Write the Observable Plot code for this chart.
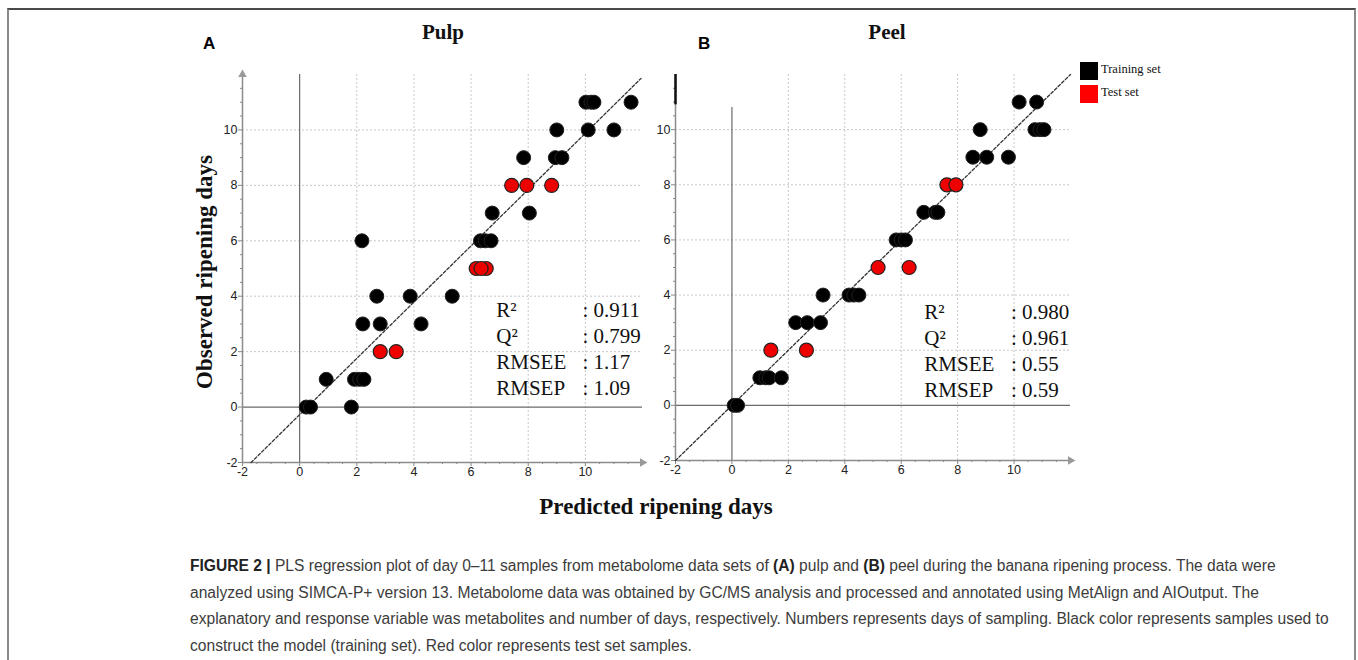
<!DOCTYPE html>
<html><head><meta charset="utf-8">
<script src="https://cdn.jsdelivr.net/npm/d3@7"></script>
<script src="https://cdn.jsdelivr.net/npm/@observablehq/plot@0.6"></script>
<style>
body{margin:0;background:#fff;}
#fig{position:relative;width:1358px;height:660px;overflow:hidden;background:#fff;font-family:"Liberation Sans",Arial,sans-serif;}
.frame{position:absolute;left:7px;top:8px;width:1345px;height:700px;border-left:2px solid #8a8a8a;border-top:2px solid #4a4a4a;border-right:2px solid #8a8a8a;}
.abs{position:absolute;white-space:nowrap;}
.letter{font-family:"Liberation Sans",Arial,sans-serif;font-weight:bold;font-size:17px;color:#000;}
.ptitle{font-family:"Liberation Serif","Times New Roman",serif;font-weight:bold;font-size:21px;color:#111;}
.atitle{font-family:"Liberation Serif","Times New Roman",serif;font-weight:bold;font-size:23px;color:#111;}
.leg{font-family:"Liberation Serif","Times New Roman",serif;font-size:12.5px;color:#111;}
.sw{position:absolute;width:18px;height:18px;}
.cap{position:absolute;left:190px;top:553px;font-size:15.6px;line-height:26.5px;color:#3c3c3c;font-family:"Liberation Sans",Arial,sans-serif;}
.cap div{white-space:nowrap;}
.panel{position:absolute;}
</style>
</head><body>
<div id="fig">
  <div class="frame"></div>
  <div class="abs letter" style="left:203px;top:34px;">A</div>
  <div class="abs letter" style="left:698px;top:34px;">B</div>
  <div class="abs ptitle" style="left:443px;top:20px;transform:translateX(-50%);">Pulp</div>
  <div class="abs ptitle" style="left:887px;top:20px;transform:translateX(-50%);">Peel</div>
  <div class="abs atitle" style="left:205px;top:272px;transform:translate(-50%,-50%) rotate(-90deg);">Observed ripening days</div>
  <div class="abs atitle" style="left:656px;top:507px;transform:translate(-50%,-50%);">Predicted ripening days</div>
  <div class="sw" style="left:1080px;top:62px;background:#000;"></div>
  <div class="abs leg" style="left:1101px;top:62px;">Training set</div>
  <div class="sw" style="left:1080px;top:85px;background:#ff0000;"></div>
  <div class="abs leg" style="left:1101px;top:85px;">Test set</div>
  <div id="left" class="panel" style="left:200px;top:60px;"></div>
  <div id="right" class="panel" style="left:640px;top:60px;"></div>
  <div class="cap">
    <div><b style="color:#222">FIGURE 2 |</b> PLS regression plot of day 0–11 samples from metabolome data sets of <b style="color:#222">(A)</b> pulp and <b style="color:#222">(B)</b> peel during the banana ripening process. The data were</div>
    <div>analyzed using SIMCA-P+ version 13. Metabolome data was obtained by GC/MS analysis and processed and annotated using MetAlign and AIOutput. The</div>
    <div>explanatory and response variable was metabolites and number of days, respectively. Numbers represents days of sampling. Black color represents samples used to</div>
    <div>construct the model (training set). Red color represents test set samples.</div>
  </div>
</div>
<script>
// ---- Data ----
const majorTicks = [-2, 0, 2, 4, 6, 8, 10];
const gridTicks = [2, 4, 6, 8, 10];
const statNames = ["R²", "Q²", "RMSEE", "RMSEP"];

// Pulp (A)
const pulpTrainX = [10.02, 10.2, 10.3, 11.6, 9.0, 10.1, 11.0, 7.84, 8.95, 9.18, 6.74, 8.04, 2.18, 6.33, 6.5, 6.7, 2.70, 3.87, 5.34, 2.21, 2.82, 4.25, 0.93, 1.92, 2.10, 2.25, 0.23, 0.38, 1.81];
const pulpTrainY = [11, 11, 11, 11, 10, 10, 10, 9, 9, 9, 7, 7, 6, 6, 6, 6, 4, 4, 4, 3, 3, 3, 1, 1, 1, 1, 0, 0, 0];
const pulpTestX = [7.42, 7.95, 8.82, 6.18, 6.53, 6.35, 2.82, 3.38];
const pulpTestY = [8, 8, 8, 5, 5, 5, 2, 2];
const pulpFitX = [-1.7, 11.95];
const pulpFitY = [-2, 11.86];
const pulpStats = [": 0.911", ": 0.799", ": 1.17", ": 1.09"];

// Peel (B)
const peelTrainX = [10.18, 10.80, 8.80, 10.74, 10.92, 11.06, 8.54, 9.03, 9.80, 6.80, 7.21, 7.30, 5.82, 6.0, 6.15, 3.23, 4.15, 4.32, 4.50, 2.26, 2.67, 3.14, 0.99, 1.20, 1.32, 1.75, 0.08, 0.2];
const peelTrainY = [11, 11, 10, 10, 10, 10, 9, 9, 9, 7, 7, 7, 6, 6, 6, 4, 4, 4, 4, 3, 3, 3, 1, 1, 1, 1, 0, 0];
const peelTestX = [7.62, 7.94, 5.18, 6.28, 1.38, 2.64];
const peelTestY = [8, 8, 5, 5, 2, 2];
const peelFitX = [-2, 12];
const peelFitY = [-2, 12];
const peelStats = [": 0.980", ": 0.961", ": 0.55", ": 0.59"];

// ---- Drawing ----
const minorTicks = d3.range(-1.5, 12, 0.5).filter(v => !majorTicks.includes(v) && v !== 12);
const pts = (xs, ys) => xs.map((x, i) => ({x, y: ys[i]}));
const fmt = d => String(d);

function panel(cfg) {
  const marks = [
    Plot.gridX(gridTicks, {stroke: "#c8c8c8", strokeOpacity: 1, strokeDasharray: "2,2"}),
    Plot.gridY(gridTicks, {stroke: "#c8c8c8", strokeOpacity: 1, strokeDasharray: "2,2"}),
    Plot.ruleY([0], {stroke: "#6a6a6a", strokeWidth: 1.2}),
    Plot.ruleX([0], {stroke: "#6a6a6a", strokeWidth: 1.2, y1: -2, y2: cfg.zeroTop}),
    Plot.ruleX([-2], {stroke: "#8c8c8c", strokeWidth: 1.5}),
    Plot.ruleY([-2], {stroke: "#8c8c8c", strokeWidth: 1.5}),
    Plot.axisX(minorTicks, {tickSize: 2, tickFormat: () => "", stroke: "#888", label: null}),
    Plot.axisY(minorTicks, {tickSize: 2, tickFormat: () => "", stroke: "#888", label: null}),
    Plot.axisX(majorTicks, {tickSize: 4, tickPadding: 1, tickFormat: fmt, stroke: "#888", fill: "#222", fontSize: 12.5, fontFamily: "Liberation Sans", label: null}),
    Plot.axisY(majorTicks, {tickSize: 4, tickPadding: 1, tickFormat: fmt, stroke: "#888", fill: "#222", fontSize: 12.5, fontFamily: "Liberation Sans", label: null}),
    Plot.dot([{x: 12, y: -2}], {x: "x", y: "y", symbol: "triangle", rotate: 90, r: 3.2, fill: "#999", stroke: "none"}),
    Plot.line(pts(cfg.fitX, cfg.fitY), {x: "x", y: "y", stroke: "#333", strokeWidth: 1.3, strokeDasharray: "3,2"}),
    Plot.dot(pts(cfg.trainX, cfg.trainY), {x: "x", y: "y", r: 7, fill: "#000", stroke: "#222", strokeWidth: 1}),
    Plot.dot(pts(cfg.testX, cfg.testY), {x: "x", y: "y", r: 7, fill: "#ee0000", stroke: "#222", strokeWidth: 1.2}),
    Plot.text(statNames, {x: () => cfg.statX, y: (d, i) => cfg.statY - i * 0.94, text: d => d, textAnchor: "start", fontSize: 21, fontFamily: "Liberation Serif", fill: "#111"}),
    Plot.text(cfg.stats, {x: () => cfg.valX, y: (d, i) => cfg.statY - i * 0.94, text: d => d, textAnchor: "start", fontSize: 21, fontFamily: "Liberation Serif", fill: "#111"})
  ];
  if (cfg.topArrow) marks.push(Plot.dot([{x: -2, y: 12}], {x: "x", y: "y", symbol: "triangle", r: 3.2, fill: "#999", stroke: "none"}));
  if (cfg.topBar) marks.push(Plot.ruleX([-2], {y1: 10.9, y2: 12, stroke: "#111", strokeWidth: 2.5}));
  return Plot.plot({
    width: cfg.width, height: 420,
    marginLeft: cfg.ml, marginRight: cfg.mr, marginTop: 14, marginBottom: cfg.mb,
    x: {domain: [-2, 12]}, y: {domain: [-2, 12]},
    style: {background: "transparent", overflow: "visible"},
    marks
  });
}

document.getElementById("left").append(panel({
  width: 460, ml: 42, mr: 18, mb: 18, zeroTop: 12, topArrow: true,
  trainX: pulpTrainX, trainY: pulpTrainY, testX: pulpTestX, testY: pulpTestY,
  fitX: pulpFitX, fitY: pulpFitY, stats: pulpStats, statX: 6.88, valX: 9.9, statY: 3.49
}));
document.getElementById("right").append(panel({
  width: 440, ml: 35, mr: 10, mb: 20, zeroTop: 10.8, topBar: true,
  trainX: peelTrainX, trainY: peelTrainY, testX: peelTestX, testY: peelTestY,
  fitX: peelFitX, fitY: peelFitY, stats: peelStats, statX: 6.82, valX: 9.89, statY: 3.38
}));
</script>
</body></html>
